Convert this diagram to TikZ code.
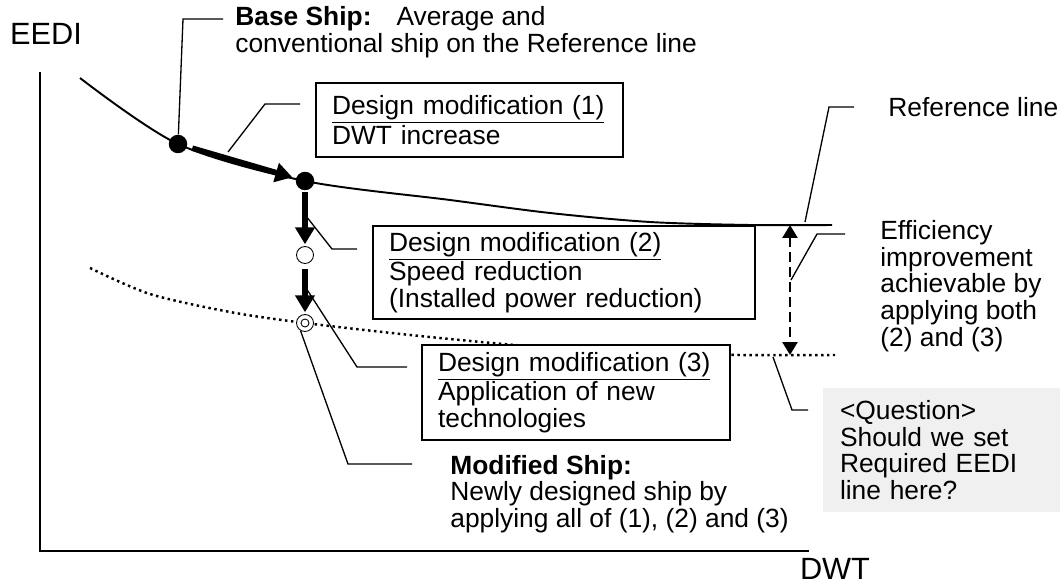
\documentclass[tikz,border=0pt]{standalone}
\usepackage{fontspec}
\setmainfont{Liberation Sans}
\usetikzlibrary{arrows.meta}

\tikzset{
	every node/.style={font=\fontsize{15}{15.2}\selectfont, inner sep=0pt},
	axislabel/.style={font=\fontsize{17.5}{20}\selectfont},
	modbox/.style={draw, fill=white, line width=1.1pt, align=left, inner xsep=0.32cm, inner ysep=0pt},
	note/.style={align=left, anchor=west},
	leader/.style={line width=0.75pt},
	bigarrow/.style={line width=0.11cm, -{Triangle[length=0.34cm, width=0.38cm]}},
	shipdot/.style={circle, fill=black, minimum size=0.37cm},
	opendot/.style={circle, draw, fill=white, line width=0.5pt, minimum size=0.34cm},
}

\begin{document}
\begin{tikzpicture}[x=0.02cm, y=-0.02cm]
	\useasboundingbox (0, 0) rectangle (1060, 584);

	% axes
	\draw[line width=1.4pt] (40, 72) -- (40, 551) -- (809, 551);
	\node[axislabel] (eedi) at (46, 34) {EEDI};
	\node[axislabel] (dwt) at (835, 569) {DWT};

	% reference line and required line
	\draw[line width=1.1pt] plot[smooth] coordinates {(80, 78) (178, 144) (305, 181) (450, 200) (550, 213) (650, 222) (750, 225) (832, 225)};
	\draw[line width=1.4pt, dash pattern=on 1.4pt off 2pt] plot[smooth] coordinates {(90, 268) (150, 294) (230, 312) (305, 323) (420, 336) (540, 347) (660, 353) (740, 355) (835, 355)};

	% ships
	\node[shipdot] (base) at (178, 144) {};
	\node[shipdot] (bigger) at (305, 181) {};
	\node[opendot] (slower) at (305, 255) {};
	\node[opendot] (modified) at (305, 323) {};
	\node[circle, draw, line width=0.5pt, minimum size=0.16cm] (inner) at (modified) {};

	% leaders
	\draw[leader] (223, 19) -- (183, 19) -- (base);
	\draw[leader] (300, 104) -- (265, 104) -- (228, 152);
	\draw[leader] (357, 249) -- (332, 249) -- (306, 216);
	\draw[leader] (407, 367) -- (357, 367) -- (306, 288);
	\draw[leader] (412, 464) -- (348, 464) -- (modified.240);
	\draw[leader] (854, 107) -- (829, 107) -- (805, 222);
	\draw[leader] (845, 234) -- (817, 234) -- (791, 280);
	\draw[leader] (808, 410) -- (792, 410) -- (773, 357);

	% modifications
	\draw[bigarrow, shorten <=3pt, shorten >=2pt] (base) -- (bigger);
	\draw[bigarrow, shorten <=1pt, shorten >=1pt] (bigger) -- (slower);
	\draw[bigarrow, shorten <=3pt, shorten >=1pt] (slower) -- (modified);

	\coordinate (reftop) at (790, 225);
	\coordinate (reqbot) at (790, 355);
	\draw[line width=0.05cm, dash pattern=on 0.2cm off 0.1cm, {Triangle[length=0.26cm, width=0.3cm]}-{Triangle[length=0.26cm, width=0.3cm]}] (reftop) -- (reqbot);

	\node[modbox, text width=5.5cm, minimum height=1.48cm] (mod1) at (469.5, 120) {\underline{Design modification (1)}\\DWT increase};
	\node[modbox, text width=7cm, minimum height=1.86cm] (mod2) at (564, 272.5) {\underline{Design modification (2)}\\Speed reduction\\(Installed power reduction)};
	\node[modbox, text width=5.52cm, minimum height=1.9cm] (mod3) at (576, 392.5) {\underline{Design modification (3)}\\Application of new\\technologies};

	% notes
	\node[note] (basenote) at (235, 32) {\textbf{Base Ship:}\hspace{0.5cm}Average and\\conventional ship on the Reference line};
	\node[note] (modnote) at (450, 494) {\textbf{Modified Ship:}\\Newly designed ship by\\applying all of (1), (2) and (3)};
	\node[note] (refnote) at (888, 107) {Reference line};
	\node[note] (effnote) at (880, 286) {Efficiency\\improvement\\achievable by\\applying both\\(2) and (3)};
	\node[fill=black!6, align=left, inner xsep=0.34cm, text width=4.06cm, minimum height=2.48cm] (question) at (941.5, 450) {<Question>\\Should we set\\Required EEDI\\line here?};
\end{tikzpicture}
\end{document}
